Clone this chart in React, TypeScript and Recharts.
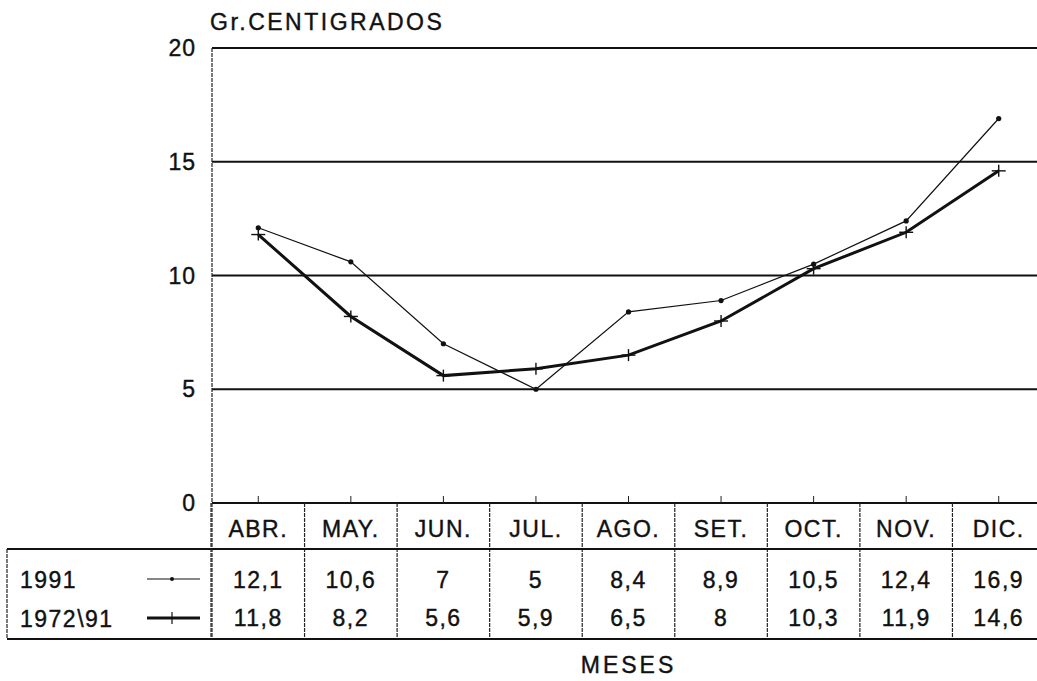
import React from "react";
import { LineChart, Line, XAxis, YAxis, CartesianGrid } from "recharts";

// datos de la tabla
const meses = ["ABR.", "MAY.", "JUN.", "JUL.", "AGO.", "SET.", "OCT.", "NOV.", "DIC."];
const temp1991 = [12.1, 10.6, 7, 5, 8.4, 8.9, 10.5, 12.4, 16.9];
const temp7291 = [11.8, 8.2, 5.6, 5.9, 6.5, 8, 10.3, 11.9, 14.6];
const nombres = ["1991", "1972\\91"];
const yTicks = [0, 5, 10, 15, 20];

const FONT = "'Liberation Sans', Arial, sans-serif";
const W = 1060;
const H = 681;
const PLOT_LEFT = 212;
const PLOT_RIGHT = 1045;
const PLOT_TOP = 48;
const PLOT_BOTTOM = 503;
const Y_AXIS_W = 60;
const X_AXIS_H = 136;
const BAND = (PLOT_RIGHT - PLOT_LEFT) / meses.length;

const fmt = (v: number) => String(v).replace(".", ",");

const data = meses.map((m, i) => ({ mes: m, a: temp1991[i], b: temp7291[i] }));

// texto un poco grueso, como la impresora original
const txt = {
  fontFamily: FONT,
  fontSize: 23,
  fill: "#111",
  stroke: "#111",
  strokeWidth: 0.4,
  letterSpacing: 1.5,
};

// celda de la tabla bajo cada mes
const TablaTick = (props: any) => {
  const { x, y, payload } = props;
  const i = meses.indexOf(payload.value);
  const half = BAND / 2;
  return (
    <g>
      <line x1={x} x2={x} y1={y - 7} y2={y} stroke="#222" strokeWidth={1} />
      <line x1={x - half} x2={x - half} y1={y} y2={y + X_AXIS_H} stroke="#222" strokeWidth={1.2} strokeDasharray="4 1" />
      {i === meses.length - 1 && (
        <line x1={x + half} x2={x + half} y1={y} y2={y + X_AXIS_H} stroke="#222" strokeWidth={1.2} />
      )}
      <text x={x} y={y + 34} textAnchor="middle" {...txt}>
        {payload.value}
      </text>
      <text x={x} y={y + 85} textAnchor="middle" {...txt}>
        {fmt(temp1991[i])}
      </text>
      <text x={x} y={y + 123} textAnchor="middle" {...txt}>
        {fmt(temp7291[i])}
      </text>
    </g>
  );
};

const Punto = (props: any) => {
  const { cx, cy } = props;
  if (cx == null || cy == null) return null;
  return <circle cx={cx} cy={cy} r={2.6} fill="#111" />;
};

const Cruz = (props: any) => {
  const { cx, cy } = props;
  if (cx == null || cy == null) return null;
  return (
    <g stroke="#111" strokeWidth={1.4}>
      <line x1={cx - 7} x2={cx + 7} y1={cy} y2={cy} />
      <line x1={cx} x2={cx} y1={cy - 6} y2={cy + 6} />
    </g>
  );
};

export default function App() {
  return (
    <div
      style={{
        position: "fixed",
        left: 0,
        top: 0,
        width: 1037,
        height: 681,
        overflow: "hidden",
        background: "#fff",
      }}
    >
      <LineChart
        width={W}
        height={H}
        data={data}
        margin={{
          top: PLOT_TOP,
          right: W - PLOT_RIGHT,
          left: PLOT_LEFT - Y_AXIS_W,
          bottom: H - PLOT_BOTTOM - X_AXIS_H,
        }}
      >
        <CartesianGrid vertical={false} stroke="#111" strokeWidth={1.8} />
        <XAxis
          dataKey="mes"
          height={X_AXIS_H}
          interval={0}
          tickSize={0}
          tickMargin={0}
          padding={{ left: BAND / 2, right: BAND / 2 }}
          axisLine={{ stroke: "#111", strokeWidth: 1.8 }}
          tickLine={false}
          tick={<TablaTick />}
        />
        <YAxis
          width={Y_AXIS_W}
          domain={[0, 20]}
          ticks={yTicks}
          tickSize={0}
          tickMargin={16}
          tickLine={false}
          axisLine={{ stroke: "#222", strokeWidth: 1.2, strokeDasharray: "4 1" }}
          tick={{ ...txt, letterSpacing: 1 }}
        />
        <Line
          dataKey="a"
          name={nombres[0]}
          stroke="#111"
          strokeWidth={1.2}
          dot={<Punto />}
          isAnimationActive={false}
        />
        <Line
          dataKey="b"
          name={nombres[1]}
          stroke="#111"
          strokeWidth={3}
          dot={<Cruz />}
          isAnimationActive={false}
        />
      </LineChart>
      <svg
        width={1037}
        height={681}
        style={{ position: "absolute", left: 0, top: 0, pointerEvents: "none" }}
      >
        <text x={210} y={30} {...txt} letterSpacing={2.5}>
          Gr.CENTIGRADOS
        </text>
        <text x={(PLOT_LEFT + PLOT_RIGHT) / 2} y={673} textAnchor="middle" {...txt} letterSpacing={3}>
          MESES
        </text>
        {/* bordes de la tabla */}
        <line x1={7} x2={1037} y1={549} y2={549} stroke="#111" strokeWidth={1.8} />
        <line x1={7} x2={1037} y1={639} y2={639} stroke="#111" strokeWidth={1.8} />
        <line x1={7} x2={7} y1={549} y2={639} stroke="#222" strokeWidth={1.2} strokeDasharray="4 1" />
        <line x1={PLOT_LEFT - 1} x2={PLOT_LEFT - 1} y1={PLOT_BOTTOM} y2={639} stroke="#222" strokeWidth={1.2} strokeDasharray="4 1" />
        {/* leyenda */}
        <text x={20} y={588} {...txt}>
          {nombres[0]}
        </text>
        <line x1={147} x2={200} y1={579} y2={579} stroke="#111" strokeWidth={1.2} />
        <circle cx={172} cy={579} r={2} fill="#111" />
        <text x={20} y={627} {...txt}>
          {nombres[1]}
        </text>
        <line x1={147} x2={200} y1={618} y2={618} stroke="#111" strokeWidth={3} />
        <line x1={172} x2={172} y1={612} y2={624} stroke="#111" strokeWidth={1.2} />
      </svg>
    </div>
  );
}
